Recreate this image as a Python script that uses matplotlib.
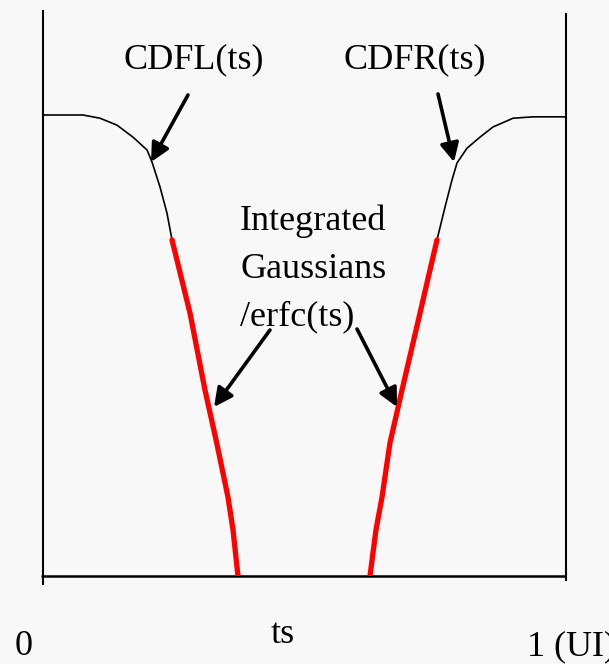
import matplotlib
matplotlib.use("Agg")
import matplotlib.pyplot as plt

plt.rcParams["font.family"] = ["Liberation Serif", "DejaVu Serif"]

# left edge of the eye (x in UI, y as probability)
cdfl_x = [0.0, 0.0765, 0.109, 0.1415, 0.172, 0.199, 0.2084, 0.2237, 0.2371, 0.2467]
cdfl_y = [1.0, 1.0, 0.993, 0.978, 0.952, 0.924, 0.898, 0.844, 0.787, 0.729]
erfcl_x = [0.2467, 0.2811, 0.3098, 0.3321, 0.3537, 0.3633, 0.3728]
erfcl_y = [0.729, 0.570, 0.403, 0.289, 0.171, 0.100, 0.0]

# right edge
cdfr_x = [1.0, 0.9369, 0.8987, 0.8604, 0.8356, 0.8107, 0.7916, 0.7820, 0.7686, 0.7533]
cdfr_y = [0.996, 0.996, 0.993, 0.974, 0.952, 0.928, 0.896, 0.859, 0.800, 0.729]
erfcr_x = [0.7533, 0.7208, 0.6864, 0.6635, 0.6482, 0.6367, 0.6252]
erfcr_y = [0.729, 0.570, 0.403, 0.289, 0.171, 0.100, 0.0]

bg = "#f8f8f8"
fig = plt.figure(figsize=(6.09, 6.64), dpi=100, facecolor=bg)
ax = fig.add_axes([43 / 609, 88 / 664, 523 / 609, 461 / 664])
ax.set_facecolor(bg)
ax.set_xlim(0, 1)
ax.set_ylim(0, 1)
ax.axis("off")

# frame
ax.vlines(0, -0.02, 1.228, color="black", lw=1.5, clip_on=False)
ax.vlines(1, -0.01, 1.221, color="black", lw=1.5, clip_on=False)
ax.hlines(0, -0.004, 1, color="black", lw=1.8, clip_on=False)

ax.plot(cdfl_x, cdfl_y, color="black", lw=1.2, clip_on=False)
ax.plot(cdfr_x, cdfr_y, color="black", lw=1.2, clip_on=False)
ax.plot(erfcl_x, erfcl_y, color="red", lw=3.8, solid_capstyle="round", zorder=3)
ax.plot(erfcr_x, erfcr_y, color="red", lw=3.8, solid_capstyle="round", zorder=3)

fs = 26
ax.text(0.2887, 1.102, "CDFL(ts)", fontsize=fs, ha="center", va="baseline")
ax.text(0.7113, 1.102, "CDFR(ts)", fontsize=fs, ha="center", va="baseline")
for txt, yb in zip(["Integrated", "Gaussians", "/erfc(ts)"], [0.7505, 0.6464, 0.5445]):
    ax.text(0.3767, yb, txt, fontsize=fs, ha="left", va="baseline")

arr = dict(arrowstyle="-|>", color="black", lw=2.6, mutation_scale=28, shrinkA=0, shrinkB=0)
ax.annotate("", xy=(0.2065, 0.898), xytext=(0.2772, 1.0434), arrowprops=arr, annotation_clip=False)
ax.annotate("", xy=(0.7859, 0.898), xytext=(0.7553, 1.0456), arrowprops=arr, annotation_clip=False)
ax.annotate("", xy=(0.327, 0.3666), xytext=(0.434, 0.5336), arrowprops=arr)
ax.annotate("", xy=(0.6769, 0.3666), xytext=(0.6004, 0.5358), arrowprops=arr)

ax.text(-0.038, -0.171, "0", fontsize=fs, ha="center", va="baseline", clip_on=False)
ax.text(0.459, -0.145, "ts", fontsize=fs, ha="center", va="baseline", clip_on=False)
ax.text(0.925, -0.171, "1 (UI)", fontsize=fs, ha="left", va="baseline", clip_on=False)

fig.savefig("out.png", dpi=100, facecolor=bg)
